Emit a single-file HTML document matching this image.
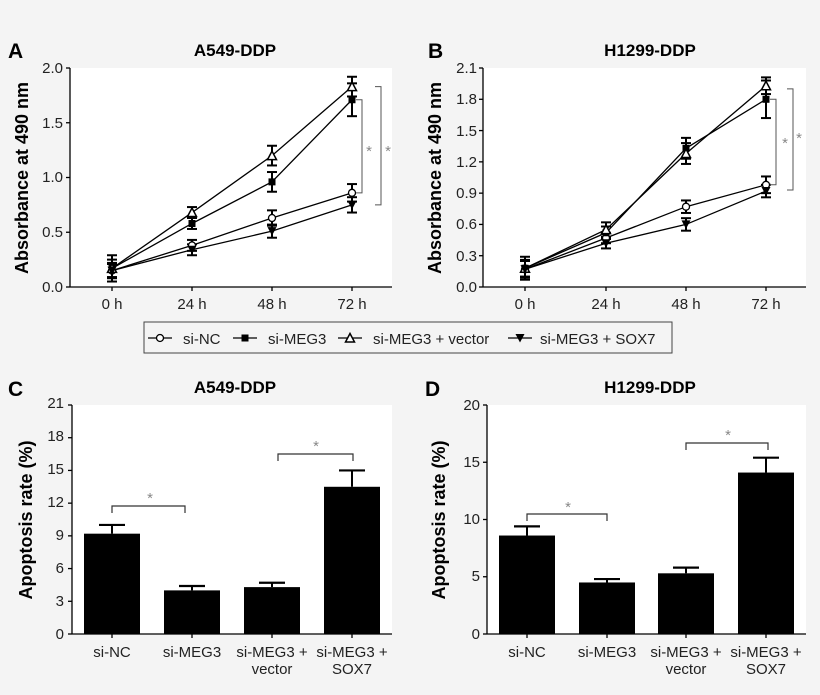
<!DOCTYPE html>
<html><head><meta charset="utf-8"><style>
html,body{margin:0;padding:0;background:#f4f4f4}
svg{display:block;font-family:"Liberation Sans",Arial,sans-serif}
</style></head><body>
<svg id="s" width="820" height="695" viewBox="0 0 820 695">
<rect width="820" height="695" fill="#f4f4f4"/>
<g id="g"></g>
<g fill="#000">
<text x="8" y="58" font-size="21" font-weight="bold">A</text>
<text x="428" y="58" font-size="21" font-weight="bold">B</text>
<text x="8" y="396" font-size="21" font-weight="bold">C</text>
<text x="425" y="396" font-size="21" font-weight="bold">D</text>
<text x="235" y="56" font-size="17" font-weight="bold" text-anchor="middle">A549-DDP</text>
<text x="650" y="56" font-size="17" font-weight="bold" text-anchor="middle">H1299-DDP</text>
<text x="235" y="393" font-size="17" font-weight="bold" text-anchor="middle">A549-DDP</text>
<text x="650" y="393" font-size="17" font-weight="bold" text-anchor="middle">H1299-DDP</text>
<text transform="translate(28,178) rotate(-90)" font-size="18" font-weight="bold" text-anchor="middle">Absorbance at 490 nm</text>
<text transform="translate(441,178) rotate(-90)" font-size="18" font-weight="bold" text-anchor="middle">Absorbance at 490 nm</text>
<text transform="translate(32,520) rotate(-90)" font-size="18" font-weight="bold" text-anchor="middle">Apoptosis rate (%)</text>
<text transform="translate(445,520) rotate(-90)" font-size="18" font-weight="bold" text-anchor="middle">Apoptosis rate (%)</text>
</g>
<g font-size="15" fill="#222" text-anchor="end">
<text x="63" y="292">0.0</text><text x="63" y="237">0.5</text><text x="63" y="182">1.0</text><text x="63" y="128">1.5</text><text x="63" y="73">2.0</text>
<text x="477" y="292">0.0</text><text x="477" y="261">0.3</text><text x="477" y="229">0.6</text><text x="477" y="198">0.9</text><text x="477" y="167">1.2</text><text x="477" y="136">1.5</text><text x="477" y="104">1.8</text><text x="477" y="73">2.1</text>
<text x="64" y="639">0</text><text x="64" y="606">3</text><text x="64" y="573">6</text><text x="64" y="540">9</text><text x="64" y="507">12</text><text x="64" y="474">15</text><text x="64" y="441">18</text><text x="64" y="408">21</text>
<text x="480" y="639">0</text><text x="480" y="581">5</text><text x="480" y="524">10</text><text x="480" y="467">15</text><text x="480" y="410">20</text>
</g>
<g font-size="15" fill="#222" text-anchor="middle">
<text x="112" y="309">0 h</text><text x="192" y="309">24 h</text><text x="272" y="309">48 h</text><text x="352" y="309">72 h</text>
<text x="525" y="309">0 h</text><text x="606" y="309">24 h</text><text x="686" y="309">48 h</text><text x="766" y="309">72 h</text>
<text x="112" y="657">si-NC</text><text x="192" y="657">si-MEG3</text><text x="272" y="657">si-MEG3 +</text><text x="272" y="674">vector</text><text x="352" y="657">si-MEG3 +</text><text x="352" y="674">SOX7</text>
<text x="527" y="657">si-NC</text><text x="607" y="657">si-MEG3</text><text x="686" y="657">si-MEG3 +</text><text x="686" y="674">vector</text><text x="766" y="657">si-MEG3 +</text><text x="766" y="674">SOX7</text>
</g>
<g font-size="15" fill="#888" text-anchor="middle">
<text x="369" y="156">*</text><text x="388" y="156">*</text>
<text x="785" y="148">*</text><text x="799" y="143">*</text>
<text x="150" y="503">*</text><text x="316" y="451">*</text>
<text x="568" y="512">*</text><text x="728" y="440">*</text>
</g>
<rect x="144" y="322" width="528" height="31" fill="none" stroke="#444" stroke-width="1"/>
<g font-size="15" fill="#222">
<text x="183" y="344">si-NC</text><text x="268" y="344">si-MEG3</text><text x="373" y="344">si-MEG3 + vector</text><text x="540" y="344">si-MEG3 + SOX7</text>
</g>
</svg>
<script>
var g=document.getElementById('g'),NS='http://www.w3.org/2000/svg';
function el(t,a){var e=document.createElementNS(NS,t);for(var k in a)e.setAttribute(k,a[k]);g.appendChild(e);return e;}
function ln(x1,y1,x2,y2,w,c){el('line',{x1:x1,y1:y1,x2:x2,y2:y2,stroke:c||'#000','stroke-width':w||1.3});}
function mk(t,x,y){
 if(t==0)el('circle',{cx:x,cy:y,r:3.5,fill:'#fff',stroke:'#000','stroke-width':1.3});
 if(t==1)el('rect',{x:x-3.5,y:y-3.5,width:7,height:7,fill:'#000'});
 if(t==2)el('polygon',{points:(x-4.5)+','+(y+4)+' '+(x+4.5)+','+(y+4)+' '+x+','+(y-4.5),fill:'#fff',stroke:'#000','stroke-width':1.5});
 if(t==3)el('polygon',{points:(x-4.5)+','+(y-4)+' '+(x+4.5)+','+(y-4)+' '+x+','+(y+4.5),fill:'#000'});
}
function lineChart(ax,xs,top,max,ticks,data,err,br){
 var y0=287,sc=(y0-top)/max;
 el('rect',{x:ax,y:top,width:xs[3]+40-ax,height:y0-top,fill:'#fff'});
 ln(ax,top,ax,y0);ln(ax,y0,xs[3]+40,y0);
 ticks.forEach(function(v){ln(ax-4,y0-v*sc,ax,y0-v*sc);});
 xs.forEach(function(x){ln(x,y0,x,y0+4);});
 data.forEach(function(d,i){
  var p=d.map(function(v,j){return xs[j]+','+(y0-v*sc);}).join(' ');
  el('polyline',{points:p,fill:'none',stroke:'#000','stroke-width':1.3});
  d.forEach(function(v,j){var e=err[i][j]*sc,y=y0-v*sc;ln(xs[j],y-e,xs[j],y+e,2);ln(xs[j]-5,y-e,xs[j]+5,y-e,2);ln(xs[j]-5,y+e,xs[j]+5,y+e,2);});
 });
 data.forEach(function(d,i){d.forEach(function(v,j){mk(i,xs[j],y0-v*sc);});});
 br.forEach(function(b){var x=b[0],ya=y0-b[1]*sc,yb=y0-b[2]*sc;
  el('polyline',{points:(x-6)+','+ya+' '+x+','+ya+' '+x+','+yb+' '+(x-6)+','+yb,fill:'none',stroke:'#555','stroke-width':1});});
}
lineChart(70,[112,192,272,352],68,2.0,[0,.5,1,1.5,2],
 [[.15,.38,.63,.86],[.17,.58,.96,1.71],[.17,.68,1.2,1.83],[.15,.34,.51,.75]],
 [[.06,.05,.07,.08],[.08,.05,.09,.15],[.12,.05,.09,.09],[.07,.05,.06,.07]],
 [[362,1.71,.86],[381,1.83,.75]]);
lineChart(483,[525,606,686,766],68,2.1,[0,.3,.6,.9,1.2,1.5,1.8,2.1],
 [[.17,.47,.77,.98],[.18,.52,1.33,1.8],[.18,.55,1.28,1.93],[.17,.42,.6,.92]],
 [[.08,.05,.06,.08],[.08,.06,.1,.18],[.11,.07,.1,.08],[.08,.05,.06,.06]],
 [[776,1.8,.98],[793,1.9,.93]]);
function barChart(ax,xs,max,ticks,vals,errs,brs){
 var y0=634,top=405,sc=(y0-top)/max;
 el('rect',{x:ax,y:top,width:xs[3]+40-ax,height:y0-top,fill:'#fff'});
 vals.forEach(function(v,i){var x=xs[i],y=y0-v*sc,e=errs[i]*sc;
  ln(x,y,x,y-e,2);ln(x-13,y-e,x+13,y-e,2.2);
  el('rect',{x:x-28,y:y,width:56,height:v*sc,fill:'#000'});});
 ln(ax,top,ax,y0);ln(ax,y0,xs[3]+40,y0);
 ticks.forEach(function(v){ln(ax-4,y0-v*sc,ax,y0-v*sc);});
 xs.forEach(function(x){ln(x,y0,x,y0+4);});
 brs.forEach(function(b){var y=b[2];el('polyline',{points:b[0]+','+(y+7)+' '+b[0]+','+y+' '+b[1]+','+y+' '+b[1]+','+(y+7),fill:'none',stroke:'#333','stroke-width':1.2});});
}
barChart(72,[112,192,272,352],21,[0,3,6,9,12,15,18,21],[9.2,4.0,4.3,13.5],[.8,.4,.4,1.5],[[112,185,506],[278,353,454]]);
barChart(487,[527,607,686,766],20,[0,5,10,15,20],[8.6,4.5,5.3,14.1],[.8,.3,.5,1.3],[[527,607,514],[686,768,443]]);
[[160,0],[245,1],[350,2],[520,3]].forEach(function(m){ln(m[0]-12,338,m[0]+12,338,1.3);mk(m[1],m[0],338);});
</script>
</body></html>
